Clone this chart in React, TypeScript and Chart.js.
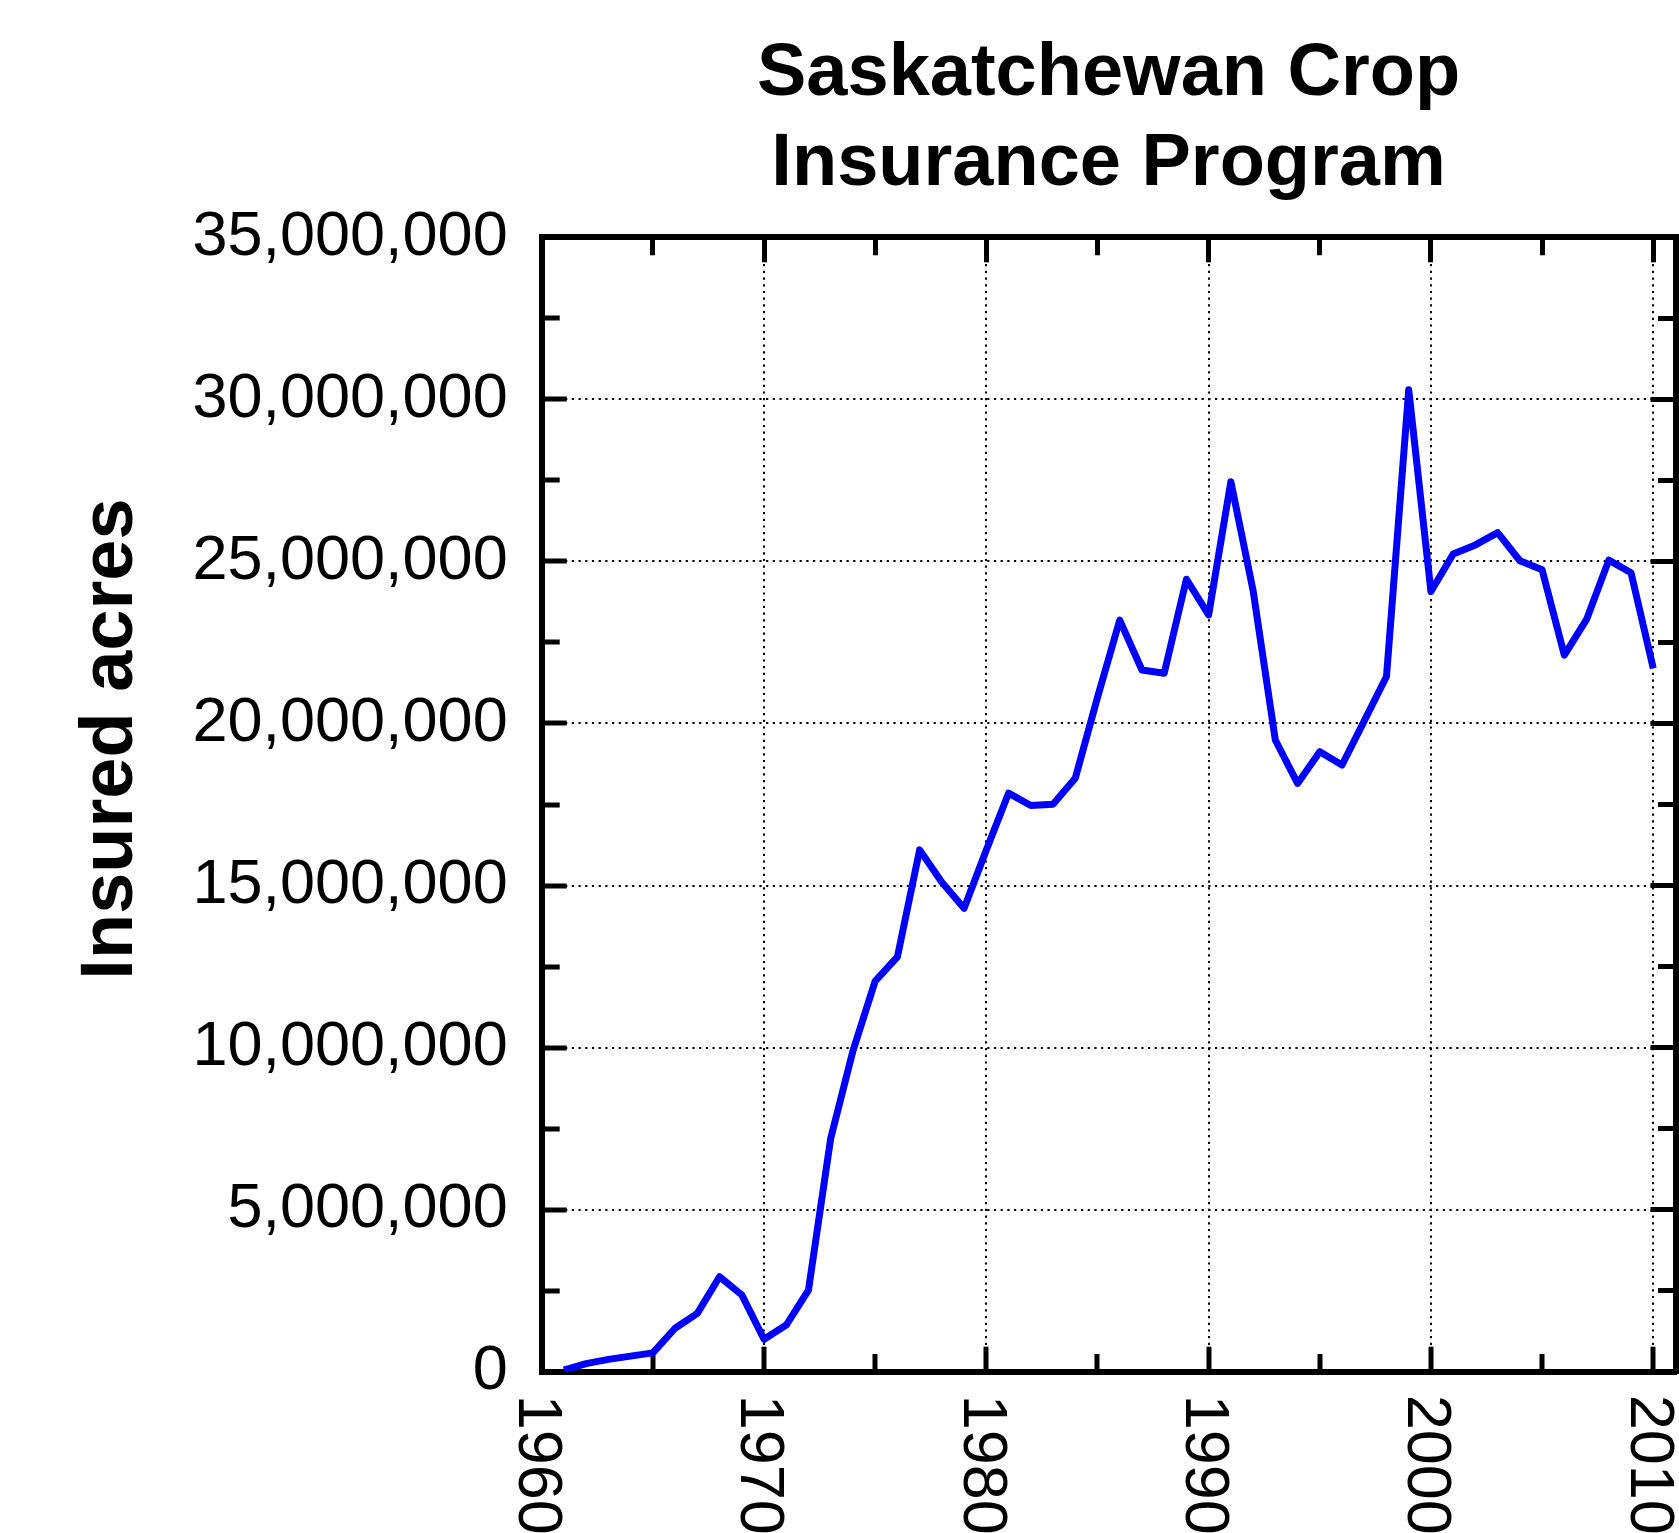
import React, { useEffect, useRef } from 'react';
import { Chart, registerables } from 'chart.js';

Chart.register(...registerables);

const TITLE_LINES = ['Saskatchewan Crop', 'Insurance Program'];
const Y_TITLE = 'Insured acres';

const YEARS = [
  1961, 1962, 1963, 1964, 1965, 1966, 1967, 1968, 1969, 1970,
  1971, 1972, 1973, 1974, 1975, 1976, 1977, 1978, 1979, 1980,
  1981, 1982, 1983, 1984, 1985, 1986, 1987, 1988, 1989, 1990,
  1991, 1992, 1993, 1994, 1995, 1996, 1997, 1998, 1999, 2000,
  2001, 2002, 2003, 2004, 2005, 2006, 2007, 2008, 2009, 2010,
];

const INSURED_ACRES = [
  50000, 250000, 380000, 480000, 580000, 1340000, 1800000, 2930000, 2370000, 1000000,
  1440000, 2520000, 7200000, 9900000, 12050000, 12800000, 16100000, 15100000, 14300000, 16100000,
  17850000, 17470000, 17510000, 18310000, 20800000, 23190000, 21650000, 21550000, 24450000, 23350000,
  27460000, 24100000, 19490000, 18150000, 19130000, 18720000, 20080000, 21450000, 30300000, 24070000,
  25230000, 25510000, 25890000, 25020000, 24740000, 22110000, 23210000, 25040000, 24650000, 21700000,
];

const X_TICK_LABELS = ['1960', '1970', '1980', '1990', '2000', '2010'];
const X_MIN = 1960;
const X_MAX = 2011;
const X_MINOR_STEP = 5;
const X_MAJOR_STEP = 10;
const Y_MIN = 0;
const Y_MAX = 35000000;
const Y_MINOR_STEP = 2500000;
const Y_MAJOR_STEP = 5000000;

const FONT_FAMILY = '"Liberation Sans", Arial, Helvetica, sans-serif';

const GRID_COLOR = '#000000';
const TRANSPARENT = 'rgba(0,0,0,0)';

const labelsPlugin = {
  id: 'rotatedLabels',
  afterDraw(chart: any) {
    const { ctx, chartArea } = chart;
    const xs = chart.scales.x;
    ctx.save();
    ctx.fillStyle = '#000';
    ctx.font = `63px ${FONT_FAMILY}`;
    ctx.textAlign = 'left';
    ctx.textBaseline = 'alphabetic';
    X_TICK_LABELS.forEach((lbl) => {
      const px = xs.getPixelForValue(Number(lbl));
      ctx.save();
      ctx.translate(px - 22.6, chartArea.bottom + 23);
      ctx.rotate(Math.PI / 2);
      ctx.fillText(lbl, 0, 0);
      ctx.restore();
    });
    ctx.font = `bold 74px ${FONT_FAMILY}`;
    ctx.textAlign = 'center';
    ctx.translate(chartArea.left - 410, (chartArea.top + chartArea.bottom) / 2 - 65.5);
    ctx.rotate(-Math.PI / 2);
    ctx.fillText(Y_TITLE, 0, 0);
    ctx.restore();
  },
};

const isMajorX = (c: any) => c.tick && Math.abs(c.tick.value % X_MAJOR_STEP) < 1e-6;
const isMajorY = (c: any) => c.tick && Math.abs(c.tick.value % Y_MAJOR_STEP) < 1e-3;

export default function App() {
  const ref = useRef<HTMLCanvasElement>(null);

  useEffect(() => {
    if (!ref.current) return;
    const data = YEARS.map((yr, i) => ({ x: yr, y: INSURED_ACRES[i] }));

    const commonBorder = { display: true, color: '#000', width: 6, dash: [2.2, 4.5] };

    const chart = new Chart(ref.current, {
      type: 'line',
      data: {
        datasets: [
          {
            label: Y_TITLE,
            data,
            borderColor: '#0000ff',
            backgroundColor: '#0000ff',
            borderWidth: 7,
            pointRadius: 0,
            tension: 0,
            fill: false,
            borderJoinStyle: 'round',
            xAxisID: 'x',
            yAxisID: 'y',
          },
        ],
      },
      plugins: [labelsPlugin],
      options: {
        responsive: false,
        animation: false,
        devicePixelRatio: 1,
        layout: { padding: { left: 0, right: 3.5, top: 0, bottom: 0 } },
        plugins: {
          legend: { display: false },
          tooltip: { enabled: false },
          title: {
            display: true,
            text: TITLE_LINES,
            color: '#000',
            fullSize: false,
            font: { family: FONT_FAMILY, size: 74, weight: 'bold', lineHeight: 1.215 },
            padding: { top: 29.4, bottom: 28.1 },
          },
        },
        scales: {
          x: {
            type: 'linear',
            position: 'bottom',
            min: X_MIN,
            max: X_MAX,
            ticks: { stepSize: X_MINOR_STEP, includeBounds: false, display: false, autoSkip: false },
            grid: {
              display: true,
              drawOnChartArea: true,
              drawTicks: true,
              tickLength: -25,
              tickWidth: 5,
              tickColor: '#000',
              lineWidth: 2,
              color: (c: any) => (isMajorX(c) ? GRID_COLOR : TRANSPARENT),
              tickBorderDash: (c: any) => (isMajorX(c) ? [] : [21, 100]),
            },
            border: commonBorder,
            afterFit: (s: any) => { s.height = 161.3; },
          },
          x2: {
            type: 'linear',
            position: 'top',
            min: X_MIN,
            max: X_MAX,
            ticks: { stepSize: X_MINOR_STEP, includeBounds: false, display: false, autoSkip: false },
            grid: {
              display: true,
              drawOnChartArea: false,
              drawTicks: true,
              tickLength: -25,
              tickWidth: 5,
              tickColor: '#000',
              tickBorderDash: (c: any) => (isMajorX(c) ? [] : [0, 7, 21, 100]),
            },
            border: { display: true, color: '#000', width: 6 },
            afterFit: (s: any) => { s.height = 0; },
          },
          y: {
            type: 'linear',
            position: 'left',
            min: Y_MIN,
            max: Y_MAX,
            ticks: {
              stepSize: Y_MINOR_STEP,
              autoSkip: false,
              color: '#000',
              padding: 59,
              font: { family: FONT_FAMILY, size: 63 },
              callback: (v: any) => (Math.abs(Number(v) % Y_MAJOR_STEP) < 1e-3 ? Number(v).toLocaleString('en-US') : ''),
            },
            grid: {
              display: true,
              drawOnChartArea: true,
              drawTicks: true,
              tickLength: -25,
              tickWidth: 5,
              tickColor: '#000',
              lineWidth: 2,
              color: (c: any) => (isMajorY(c) ? GRID_COLOR : TRANSPARENT),
              tickBorderDash: (c: any) => (isMajorY(c) ? [] : [0, 7, 21, 100]),
            },
            border: commonBorder,
            afterFit: (s: any) => { s.width = 541.7; },
          },
          y2: {
            type: 'linear',
            position: 'right',
            min: Y_MIN,
            max: Y_MAX,
            ticks: { stepSize: Y_MINOR_STEP, display: false, autoSkip: false },
            grid: {
              display: true,
              drawOnChartArea: false,
              drawTicks: true,
              tickLength: -25,
              tickWidth: 5,
              tickColor: '#000',
              tickBorderDash: (c: any) => (isMajorY(c) ? [] : [21, 100]),
            },
            border: { display: true, color: '#000', width: 6 },
            afterFit: (s: any) => { s.width = 0; },
          },
        },
      } as any,
    });

    return () => chart.destroy();
  }, []);

  return (
    <div style={{ position: 'absolute', left: 0, top: 0, width: 1679, height: 1533, background: '#fff', overflow: 'hidden' }}>
      <canvas ref={ref} width={1679} height={1533} style={{ display: 'block' }} />
    </div>
  );
}
